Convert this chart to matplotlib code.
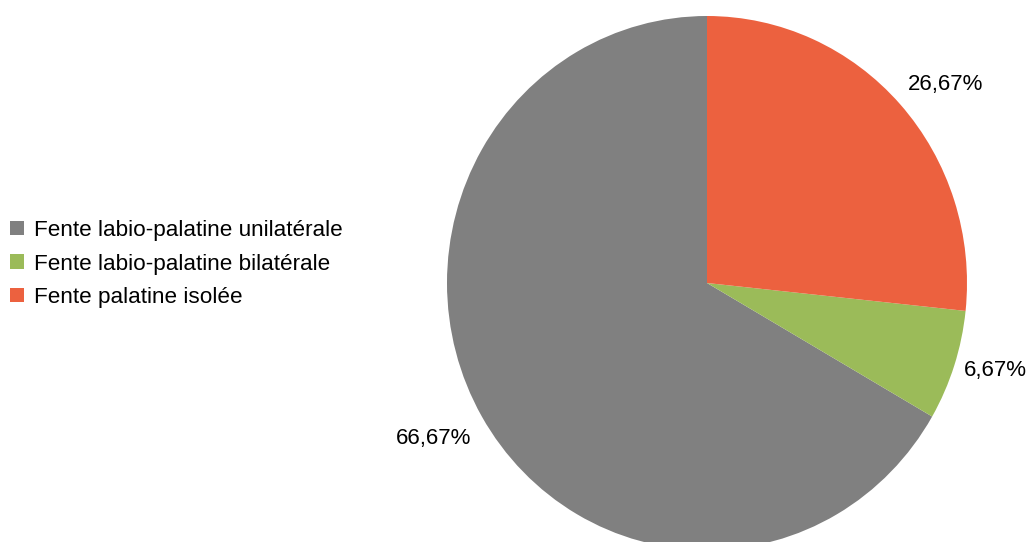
import matplotlib
matplotlib.use("Agg")
import matplotlib.pyplot as plt
import numpy as np

categories = ["Fente labio-palatine unilatérale",
              "Fente labio-palatine bilatérale",
              "Fente palatine isolée"]
values = [66.67, 6.67, 26.67]
colors = ["#808080", "#9bbb59", "#ec613f"]

plt.rcParams['font.family'] = ['Liberation Sans', 'DejaVu Sans']

fig = plt.figure(figsize=(10.30, 5.42), dpi=100)
W, H = 1030, 542
cx, cy = 707, 283
rx, ry = 260, 267
ax = fig.add_axes([(cx - rx) / W, 1 - (cy + ry) / H, 2 * rx / W, 2 * ry / H])

wedges, _ = ax.pie(values, colors=colors, startangle=90, counterclock=True,
                   wedgeprops=dict(linewidth=0))
label_dist = [1.203, 1.155, 1.183]
label_shift = [-1.1, 1.5, -3.0]
for w, v, d, s in zip(wedges, values, label_dist, label_shift):
    ang = np.deg2rad((w.theta1 + w.theta2) / 2 + s)
    ax.text(d * np.cos(ang), d * np.sin(ang), f"{v:.2f}%".replace(".", ","),
            ha="center", va="center", fontsize=16, color="black")
ax.set_aspect("auto")
ax.set_xlim(-1, 1)
ax.set_ylim(-1, 1)
ax.axis("off")

fig.legend(wedges, categories, loc="center left",
           bbox_to_anchor=(10 / W, 1 - 264 / H), frameon=False,
           fontsize=16.2, handlelength=0.6, handleheight=0.6,
           handletextpad=0.45, labelspacing=0.55,
           borderpad=0, borderaxespad=0)

fig.savefig("out.png", dpi=100)
